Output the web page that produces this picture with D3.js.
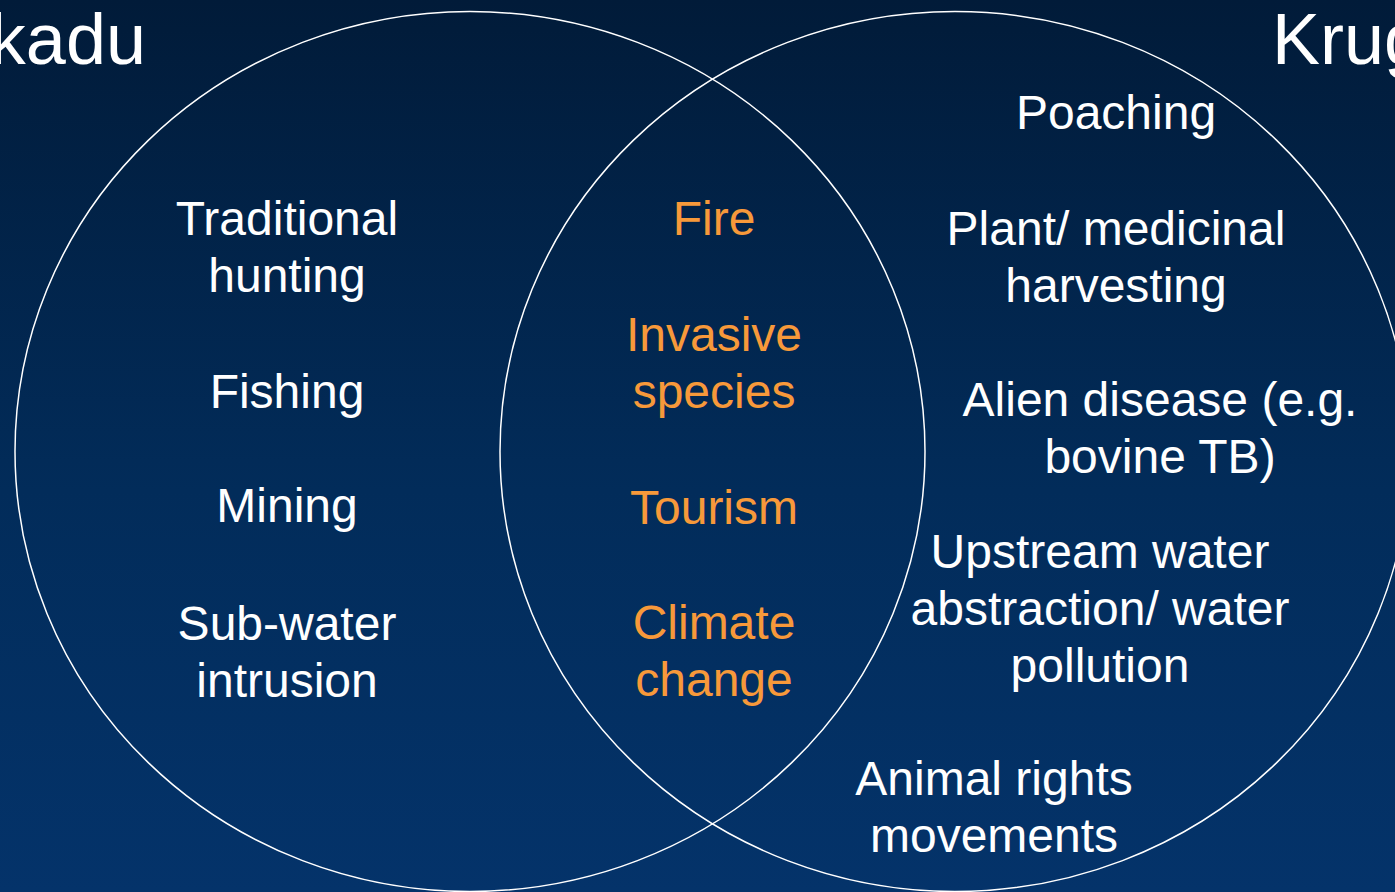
<!DOCTYPE html>
<html>
<head>
<meta charset="utf-8">
<script src="https://cdn.jsdelivr.net/npm/d3@7"></script>
<style>
  body { margin: 0; overflow: hidden; background: #011c3c; }
  svg { display: block; }
</style>
</head>
<body>
<div id="chart"></div>
<script>
// set names
var setNames = ["Kakadu", "Kruger"];

// threats only in Kakadu
var kakaduOnly = [
    ["Traditional", "hunting"],
    ["Fishing"],
    ["Mining"],
    ["Sub-water", "intrusion"]
];

// threats shared by both parks
var sharedThreats = [
    ["Fire"],
    ["Invasive", "species"],
    ["Tourism"],
    ["Climate", "change"]
];

// threats only in Kruger
var krugerOnly = [
    ["Poaching"],
    ["Plant/ medicinal", "harvesting"],
    ["Alien disease (e.g.", "bovine TB)"],
    ["Upstream water", "abstraction/ water", "pollution"],
    ["Animal rights", "movements"]
];

function drawVenn(width, height) {
    var svg = d3
        .select("#chart")
        .append("svg")
        .attr("width", width)
        .attr("height", height);

    // background gradient
    var grad = svg.append("defs")
        .append("linearGradient")
        .attr("id", "bg")
        .attr("x1", 0).attr("y1", 0)
        .attr("x2", 0).attr("y2", 1);
    grad.append("stop").attr("offset", "0%").attr("stop-color", "#011b39");
    grad.append("stop").attr("offset", "55%").attr("stop-color", "#022c5a");
    grad.append("stop").attr("offset", "100%").attr("stop-color", "#04336a");

    svg.append("rect")
        .attr("width", width)
        .attr("height", height)
        .attr("fill", "url(#bg)");

    // x scale: set index -> ellipse centre
    var x = d3.scaleLinear().domain([0, 1]).range([470, 955]);
    var cy = 451.5;

    svg.selectAll(".set")
        .data(setNames)
        .enter()
        .append("ellipse")
        .attr("class", "set")
        .attr("cx", (d, i) => x(i))
        .attr("cy", cy)
        .attr("rx", 455)
        .attr("ry", 440)
        .attr("fill", "none")
        .attr("stroke", "#ffffff")
        .attr("stroke-width", 1.5);

    // set titles (cut off by the page edge, as on the slide)
    svg.append("text")
        .attr("x", 146)
        .attr("y", 64)
        .attr("text-anchor", "end")
        .style("font-family", "Liberation Sans, Arial, sans-serif")
        .style("font-size", "72px")
        .attr("fill", "#ffffff")
        .text(setNames[0]);

    svg.append("text")
        .attr("x", 1272)
        .attr("y", 64)
        .attr("text-anchor", "start")
        .style("font-family", "Liberation Sans, Arial, sans-serif")
        .style("font-size", "72px")
        .attr("fill", "#ffffff")
        .text(setNames[1]);

    var lineH = 57;

    // layout: column centre x and first-baseline y for each group
    var columns = [
        { items: kakaduOnly, color: "#ffffff", xs: [287, 287, 287, 287], ys: [235, 408, 522, 640] },
        { items: sharedThreats, color: "#f7993a", xs: [714, 714, 714, 714], ys: [235, 351, 524, 639] },
        { items: krugerOnly, color: "#ffffff", xs: [1116, 1116, 1160, 1100, 994], ys: [129, 245, 416, 568, 795] }
    ];

    columns.forEach(function (col) {
        var g = svg.append("g");
        var blocks = g.selectAll(".block")
            .data(col.items)
            .enter()
            .append("text")
            .attr("class", "block")
            .attr("text-anchor", "middle")
            .style("font-family", "Liberation Sans, Arial, sans-serif")
            .style("font-size", "48px")
            .attr("fill", col.color);

        blocks.selectAll("tspan")
            .data(function (d, i) {
                return d.map(function (line, j) {
                    return { line: line, x: col.xs[i], y: col.ys[i] + j * lineH };
                });
            })
            .enter()
            .append("tspan")
            .attr("x", d => d.x)
            .attr("y", d => d.y)
            .text(d => d.line);
    });
}

drawVenn(1395, 892);
</script>
</body>
</html>
